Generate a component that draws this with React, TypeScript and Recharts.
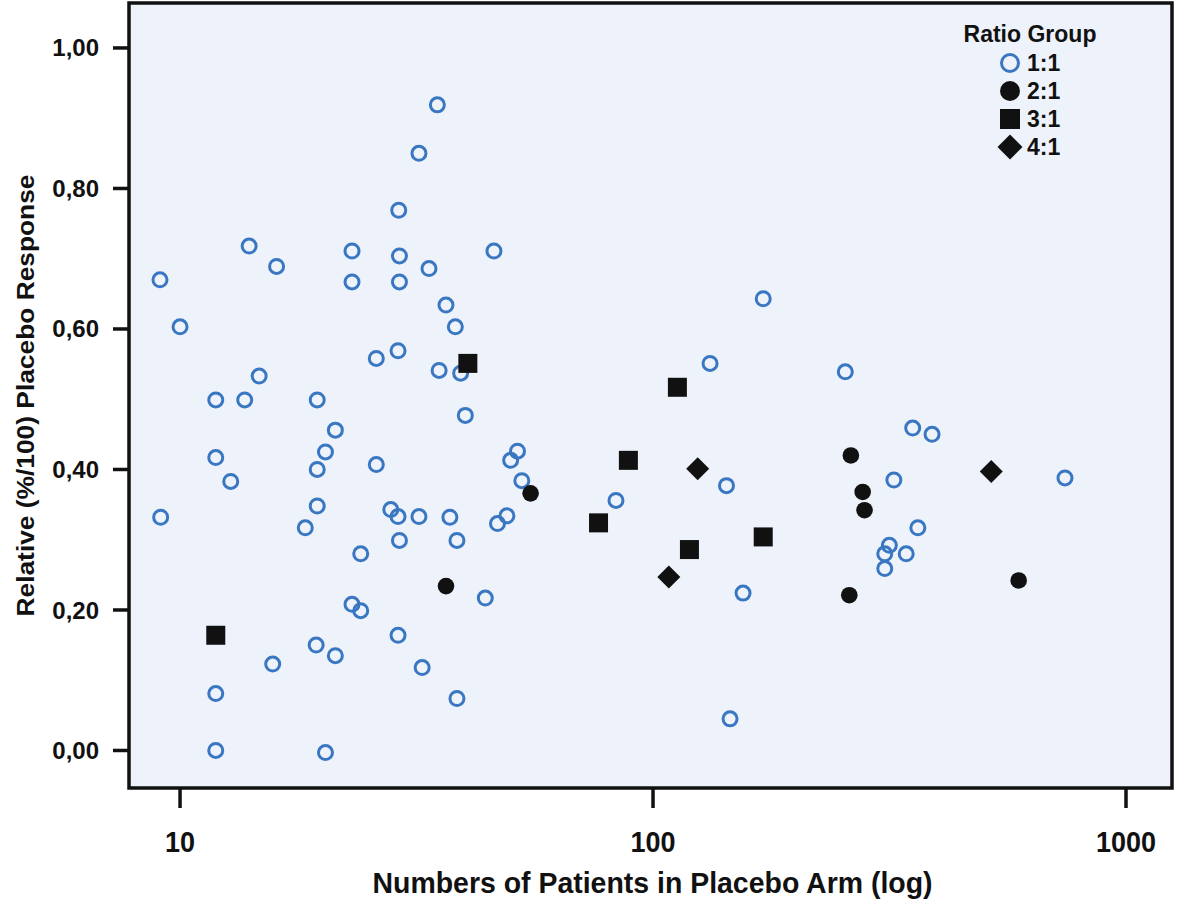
import { ScatterChart, Scatter, XAxis, YAxis, CartesianGrid, ReferenceArea, Label } from "recharts"

const BLUE = "#3a77c2"
const INK = "#111111"
const PANEL = "#eef2fa"
const FONT = "'Liberation Sans', Arial, Helvetica, sans-serif"

// [patients in placebo arm, relative placebo response]
const ratio1to1: [number, number][] = [
  [35, 0.919], [32, 0.85], [29, 0.769], [14, 0.718], [16, 0.689], [23.1, 0.711], [29.1, 0.704],
  [33.6, 0.686], [46.1, 0.711], [9.07, 0.67], [23.1, 0.667], [29.1, 0.667], [36.5, 0.634],
  [38.2, 0.603], [10, 0.603], [26, 0.558], [28.9, 0.569], [35.3, 0.541], [39.2, 0.537],
  [14.7, 0.533], [11.9, 0.499], [13.7, 0.499], [19.5, 0.499], [40.1, 0.477], [21.3, 0.456],
  [11.9, 0.417], [20.3, 0.425], [19.5, 0.4], [26, 0.407], [12.8, 0.383], [51.7, 0.426],
  [50, 0.413], [52.8, 0.384], [9.1, 0.332], [19.5, 0.348], [18.4, 0.317], [27.9, 0.343],
  [28.9, 0.333], [32, 0.333], [37.2, 0.332], [46.9, 0.323], [49.1, 0.334], [29.1, 0.299],
  [38.5, 0.299], [24.1, 0.28], [44.2, 0.217], [23.1, 0.208], [24.1, 0.199], [19.4, 0.15],
  [21.3, 0.135], [28.9, 0.164], [15.7, 0.123], [32.5, 0.118], [11.9, 0.081], [38.5, 0.074],
  [11.9, 0.0], [20.3, -0.003], [171, 0.643], [132, 0.551], [143, 0.377], [83.5, 0.356],
  [155, 0.224], [145.5, 0.045], [255, 0.539], [354, 0.459], [389, 0.45], [323, 0.385],
  [743, 0.388], [363, 0.317], [316, 0.292], [309, 0.28], [343, 0.28], [309, 0.259],
]
const ratio2to1: [number, number][] = [
  [55.1, 0.366], [36.5, 0.234], [262, 0.42], [277.5, 0.368], [280, 0.342], [593, 0.242], [260, 0.221],
]
const ratio3to1: [number, number][] = [
  [40.6, 0.551], [11.9, 0.164], [112.6, 0.517], [88.7, 0.413], [76.7, 0.324], [171, 0.304], [119.4, 0.286],
]
const ratio4to1: [number, number][] = [
  [124.3, 0.401], [108, 0.247], [519, 0.397],
]

const X_TICKS = [10, 100, 1000]
const Y_TICKS = [0, 0.2, 0.4, 0.6, 0.8, 1.0]
const X_DOMAIN = [7.8, 1251]
const Y_DOMAIN = [-0.0534, 1.064]

const toPoints = (rows: [number, number][]) => rows.map(([n, r]) => ({ n, r }))

const OpenCircle = ({ cx, cy, size = 7 }: any) => (
  <circle cx={cx} cy={cy} r={size} fill="none" stroke={BLUE} strokeWidth={3} />
)
const FilledCircle = ({ cx, cy, size = 8.3 }: any) => <circle cx={cx} cy={cy} r={size} fill={INK} />
const FilledSquare = ({ cx, cy, size = 9.5 }: any) => (
  <rect x={cx - size} y={cy - size} width={size * 2} height={size * 2} fill={INK} />
)
const FilledDiamond = ({ cx, cy, size = 11.5 }: any) => (
  <polygon points={`${cx},${cy - size} ${cx + size},${cy} ${cx},${cy + size} ${cx - size},${cy}`} fill={INK} />
)

const GROUPS = [
  { name: "1:1", rows: ratio1to1, Shape: OpenCircle, legendSize: 8.5 },
  { name: "2:1", rows: ratio2to1, Shape: FilledCircle, legendSize: 10 },
  { name: "3:1", rows: ratio3to1, Shape: FilledSquare, legendSize: 10 },
  { name: "4:1", rows: ratio4to1, Shape: FilledDiamond, legendSize: 12.5 },
]

const LegendBox = () => (
  <svg width={170} height={160} style={{ position: "absolute", left: 955, top: 8 }}>
    <text x={75} y={34} textAnchor="middle" fontFamily={FONT} fontWeight={700} fontSize={23} fill={INK}>
      Ratio Group
    </text>
    {GROUPS.map((g, i) => {
      const cy = 55 + i * 28
      return (
        <g key={g.name}>
          <g.Shape cx={55} cy={cy} size={g.legendSize} />
          <text x={72} y={cy + 8} fontFamily={FONT} fontWeight={700} fontSize={23} fill={INK}>
            {g.name}
          </text>
        </g>
      )
    })}
  </svg>
)

const XTitle = ({ viewBox }: any) => (
  <text
    x={viewBox.x + viewBox.width / 2 + 2}
    y={893}
    textAnchor="middle"
    fontFamily={FONT}
    fontWeight={700}
    fontSize={30}
    textLength={560}
    lengthAdjust="spacingAndGlyphs"
    fill={INK}
  >
    Numbers of Patients in Placebo Arm (log)
  </text>
)

const YTitle = ({ viewBox }: any) => {
  const cx = 25
  const cy = viewBox.y + viewBox.height / 2
  return (
    <text
      x={cx}
      y={cy}
      transform={`rotate(-90 ${cx} ${cy})`}
      textAnchor="middle"
      dominantBaseline="central"
      fontFamily={FONT}
      fontWeight={700}
      fontSize={24}
      textLength={442}
      lengthAdjust="spacingAndGlyphs"
      fill={INK}
    >
      Relative (%/100) Placebo Response
    </text>
  )
}

const XTick = ({ x, y, payload }: any) => (
  <text
    x={x}
    y={y + 20}
    textAnchor="middle"
    fontFamily={FONT}
    fontWeight={700}
    fontSize={29}
    textLength={String(payload.value).length * 15}
    lengthAdjust="spacingAndGlyphs"
    fill={INK}
  >
    {payload.value}
  </text>
)

export default function App() {
  return (
    <div style={{ position: "absolute", left: 0, top: 0, width: 1181, height: 899, background: "#fff" }}>
      <ScatterChart width={1181} height={899} margin={{ top: 3, right: 9, bottom: 0, left: 0 }}>
        <CartesianGrid horizontal={false} vertical={false} fill={PANEL} />
        <XAxis
          type="number"
          dataKey="n"
          scale="log"
          domain={X_DOMAIN}
          allowDataOverflow
          ticks={X_TICKS}
          height={111}
          axisLine={false}
          tickSize={20}
          tickMargin={24}
          tickLine={{ stroke: INK, strokeWidth: 3.5 }}
          tick={<XTick />}
        >
          <Label content={XTitle} />
        </XAxis>
        <YAxis
          type="number"
          dataKey="r"
          domain={Y_DOMAIN}
          allowDataOverflow
          ticks={Y_TICKS}
          width={129}
          axisLine={false}
          tickSize={16}
          tickMargin={14}
          tickLine={{ stroke: INK, strokeWidth: 3.5 }}
          tick={{ fill: INK, fontSize: 24, fontWeight: 700, fontFamily: FONT }}
          tickFormatter={(v: number) => v.toFixed(2).replace(".", ",")}
        >
          <Label content={YTitle} />
        </YAxis>
        {GROUPS.map((g) => (
          <Scatter
            key={g.name}
            name={g.name}
            data={toPoints(g.rows)}
            shape={(p: any) => <g.Shape cx={p.cx} cy={p.cy} />}
            isAnimationActive={false}
          />
        ))}
        <ReferenceArea
          x1={X_DOMAIN[0]}
          x2={X_DOMAIN[1]}
          y1={Y_DOMAIN[0]}
          y2={Y_DOMAIN[1]}
          fill="none"
          stroke={INK}
          strokeWidth={3.5}
          ifOverflow="visible"
        />
      </ScatterChart>
      <LegendBox />
    </div>
  )
}
